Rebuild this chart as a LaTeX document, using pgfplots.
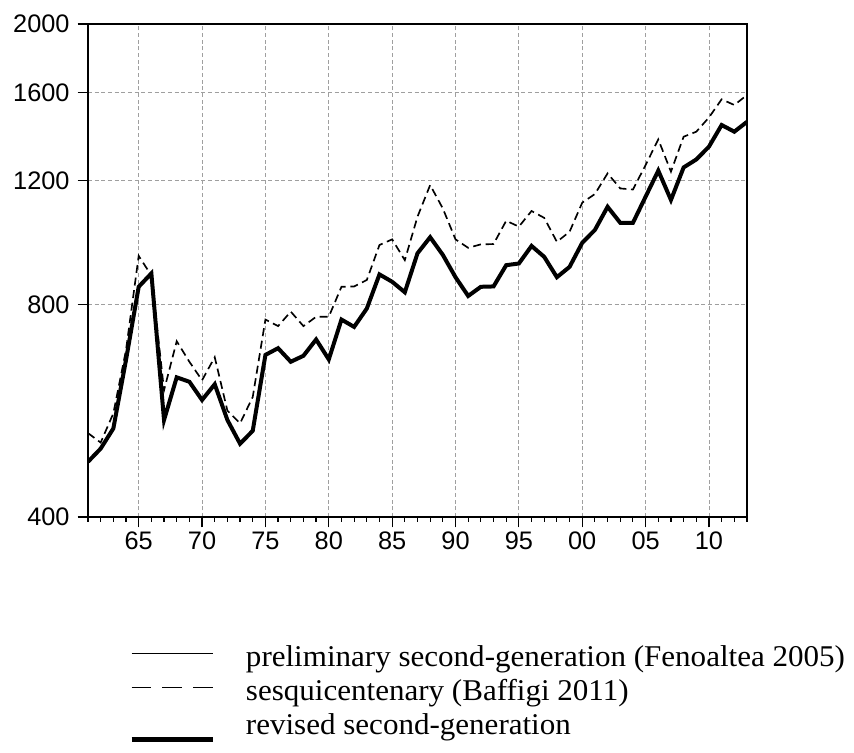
\documentclass[border=0pt]{standalone}
\usepackage{pgfplots}
\pgfplotsset{compat=1.18}
\usepackage{fontspec}
\setmainfont{Liberation Serif}
\newfontfamily\arialfont{Liberation Sans}
\newfontfamily\legfont[FakeStretch=1.03]{Liberation Serif}

\pgfplotstableread{
year thick dashed
1961 479 526
1962 500 510
1963 534 561
1964 668 690
1965 848 938
1966 886 880
1967 549 605
1968 631 710
1969 622 664
1970 586 625
1971 617 674
1972 549 566
1973 508 543
1974 530 592
1975 679 762
1976 694 746
1977 664 782
1978 677 746
1979 714 769
1980 669 769
1981 762 848
1982 744 849
1983 790 867
1984 883 972
1985 862 990
1986 833 925
1987 946 1066
1988 997 1182
1989 941 1095
1990 875 990
1991 823 963
1992 848 974
1993 849 975
1994 910 1052
1995 915 1032
1996 969 1086
1997 935 1062
1998 875 982
1999 905 1015
2000 979 1116
2001 1021 1148
2002 1101 1228
2003 1045 1169
2004 1045 1165
2005 1138 1262
2006 1239 1372
2007 1126 1235
2008 1252 1384
2009 1285 1407
2010 1340 1474
2011 1438 1564
2012 1407 1535
2013 1453 1586
}\datatable

\begin{document}
\begin{tikzpicture}
\path[use as bounding box] (-66pt,-177pt) rectangle (574.5pt,387.75pt);
\begin{axis}[
  at={(0pt,0pt)}, anchor=south west,
  scale only axis,
  width=494.25pt, height=369.75pt,
  xmin=1961, xmax=2013,
  ymode=log, ymin=400, ymax=2000,
  xtick={1965,1970,...,2010},
  xticklabels={65,70,75,80,85,90,95,00,05,10},
  minor xtick={1961,...,2013},
  ytick={400,800,1200,1600,2000},
  yticklabels={400,800,1200,1600,2000},
  minor ytick={},
  xtick pos=bottom, ytick pos=left,
  tick align=outside,
  major tick length=7.8pt, minor tick length=3.5pt,
  major tick style={black, line width=0.9pt},
  minor tick style={black, line width=0.9pt},
  axis line style={black, line width=1.5pt},
  xmajorgrids, ymajorgrids,
  major grid style={gray!75, line width=0.6pt, dash pattern=on 3pt off 2pt},
  ticklabel style={font=\arialfont\fontsize{19}{21}\selectfont},
  yticklabel style={xshift=-2.5pt},
  /pgf/number format/assume math mode=true,
  legend style={at={(axis description cs:0.0622,-0.259)}, anchor=north west,
    draw=none, fill=none, inner sep=0pt, outer sep=0pt,
    font=\legfont\fontsize{22.6}{25}\selectfont,
    nodes={inner sep=0pt, text height=16pt, text depth=5pt},
    row sep=4.5pt, column sep=23pt},
  legend cell align=left,
  legend image code/.code={\draw[black, line width=1pt] (0pt,4pt) -- (60.75pt,4pt);},
]
\addplot[black, line width=0.75pt] table[x=year, y=thick] {\datatable};
\addlegendentry{preliminary second-generation (Fenoaltea 2005)}
\addplot[black, line width=1.25pt, dash pattern=on 6pt off 3.5pt,
  legend image code/.code={\draw[black, line width=1pt, dash pattern=on 14.5pt off 8.6pt] (0pt,4pt) -- (60.75pt,4pt);}] table[x=year, y=dashed] {\datatable};
\addlegendentry{sesquicentenary (Baffigi 2011)}
\addplot[black, line width=3pt, legend image code/.code={\draw[black, line width=4pt] (0pt,-9.5pt) -- (60.75pt,-9.5pt);}] table[x=year, y=thick] {\datatable};
\addlegendentry{revised second-generation}
\end{axis}
\end{tikzpicture}
\end{document}
